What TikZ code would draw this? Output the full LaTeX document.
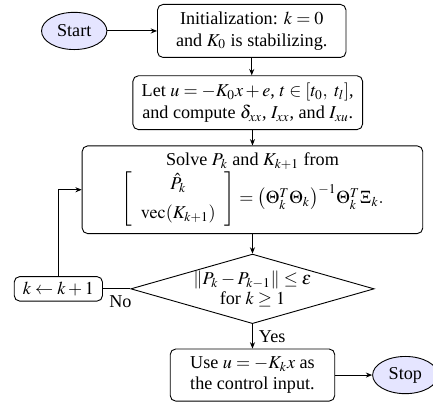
\documentclass[tikz,border=0pt]{standalone}
\usepackage{amsmath}
\usepackage{mathptmx}
\usepackage{fontspec}
\setmainfont{Liberation Serif}
\usetikzlibrary{arrows.meta,positioning,calc,shapes.geometric}
\tikzset{
  procbox/.style={
    draw,
    rounded corners=3pt,
    align=center,
    inner sep=4pt,
    line width=0.5pt
  },
  endbox/.style={
    draw,
    ellipse,
    fill=blue!10,
    inner sep=1pt,
    minimum width=36pt,
    minimum height=20.5pt,
    line width=0.5pt
  },
  testbox/.style={
    draw,
    diamond,
    shape aspect=3.5,
    align=center,
    inner sep=0pt,
    line width=0.5pt
  },
  flowarrow/.style={-{Stealth[length=3.5pt,width=2.8pt]}, line width=0.5pt}
}
\begin{document}
\begin{tikzpicture}
  \node[procbox,minimum width=103.8pt,minimum height=29.2pt] (init) {Initialization: $k=0$\\and $K_0$ is stabilizing.};
  \node[endbox,left=27.4pt of init] (start) {Start};
  \node[procbox,below=9.6pt of init,xshift=-2.2pt,minimum width=126.5pt,minimum height=28.8pt] (excite) {Let $u=-K_0x+e$, $t\in[t_0,\ t_l]$,\\and compute $\delta_{xx}$, $I_{xx}$, and $I_{xu}$.};
  \node[procbox,below=8.5pt of excite,xshift=2.6pt,minimum width=187.6pt,minimum height=48.1pt] (solve) {Solve $P_k$ and $K_{k+1}$ from\\$\left[\begin{array}{c}\hat{P}_k\\[4pt]\operatorname{vec}(K_{k+1})\end{array}\right]=\big(\Theta_k^T\Theta_k\big)^{-1}\Theta_k^T\Xi_k.$};
  \node[testbox,below=10.8pt of solve] (check) {$\|P_k-P_{k-1}\|\le\varepsilon$\\[-1pt]for $k\ge1$};
  \node[procbox,left=15.1pt of check,minimum width=48.6pt,minimum height=13.5pt,inner sep=2pt] (update) {$k\leftarrow k+1$};
  \node[procbox,below=13.5pt of check,minimum width=90.6pt,minimum height=25.6pt] (apply) {Use $u=-K_kx$ as\\the control input.};
  \node[endbox,right=20.4pt of apply] (stop) {Stop};

  \draw[flowarrow] (start) -- (init);
  \draw[flowarrow] (init) -- (init |- excite.north);
  \draw[flowarrow] (excite.south -| solve) -- (solve);
  \draw[flowarrow] (solve) -- (check);
  \draw (check) -- node[pos=1,below right] {No} (update);
  \draw[flowarrow] (update) |- (solve);
  \draw[flowarrow] (check) -- node[right] {Yes} (apply);
  \draw[flowarrow] (apply) -- (stop);

  \pgfresetboundingbox
  \useasboundingbox ($(update.west |- init.north)+(-7.6pt,2.2pt)$) rectangle ($(solve.east |- apply.south)+(5.4pt,-3.1pt)$);
\end{tikzpicture}
\end{document}
